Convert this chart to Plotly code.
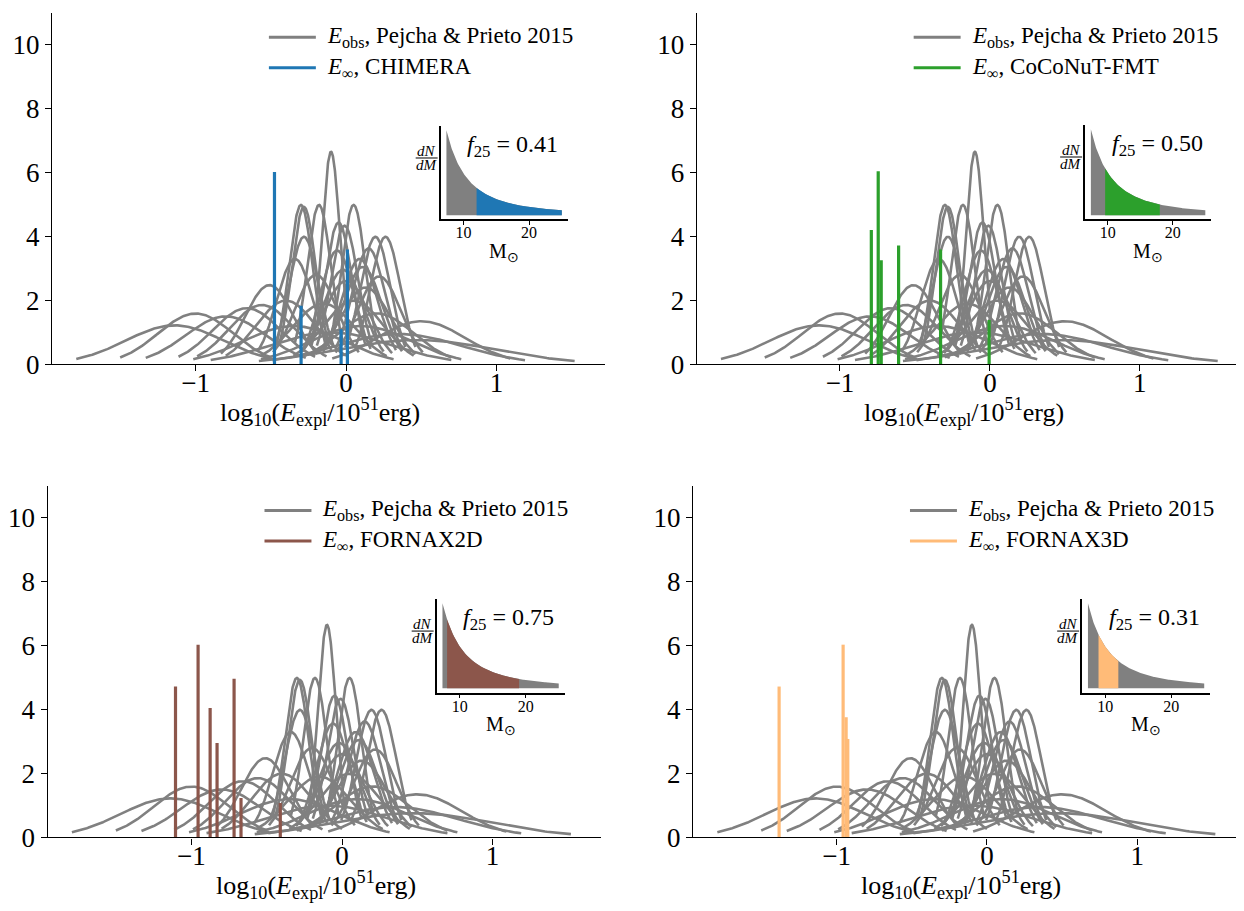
import numpy as np
import plotly.graph_objects as go

# ---------------- data ----------------
# Pejcha & Prieto 2015 observed explosion energies: log10(E/1e51 erg) mean and sigma
obs_mu = [-0.10, -0.30, -0.28, -0.18, 0.05, -0.28, -0.05, -0.01, 0.195, 0.262,
          0.15, 0.09, 0.11, -0.34, -0.06, -0.51, -0.56, -0.66, -1.00, -1.14,
          -0.80, 0.50, 0.47, -0.20, 0.00, 0.13, -0.40, -0.15, 0.05, 0.20,
          -0.35, -0.10, 0.10, 0.35, -0.02, 0.22]
obs_sigma = [0.060, 0.080, 0.081, 0.080, 0.080, 0.100, 0.090, 0.092, 0.100, 0.100,
             0.110, 0.121, 0.131, 0.121, 0.112, 0.161, 0.215, 0.227, 0.251, 0.327,
             0.266, 0.296, 0.525, 0.1425, 0.153, 0.166, 0.200, 0.210, 0.200, 0.250,
             0.333, 0.400, 0.333, 0.420, 0.135, 0.145]
obs_trunc = 2.0  # curves drawn over mean +/- 2 sigma

models = ["CHIMERA", "CoCoNuT-FMT", "FORNAX2D", "FORNAX3D"]
model_colors = ["#1f77b4", "#2ca02c", "#8c564b", "#ffbb78"]

chimera_E = [-0.476, -0.299, -0.033, 0.009]
chimera_h = [6.02, 1.83, 1.10, 3.59]
coconut_E = [-0.791, -0.745, -0.725, -0.609, -0.329, -0.005]
coconut_h = [4.20, 6.04, 3.26, 3.72, 3.59, 1.39]
fornax2d_E = [-1.106, -0.956, -0.876, -0.830, -0.717, -0.671, -0.410]
fornax2d_h = [4.72, 6.03, 4.05, 2.95, 4.96, 1.23, 1.08]
fornax3d_E = [-1.383, -0.957, -0.937, -0.926]
fornax3d_h = [4.72, 6.03, 3.76, 3.08]
model_E = [chimera_E, coconut_E, fornax2d_E, fornax3d_E]
model_h = [chimera_h, coconut_h, fornax2d_h, fornax3d_h]

f25_values = ["0.41", "0.50", "0.75", "0.31"]
mass_lo = [12.0, 9.6, 8.1, 9.0]
mass_hi = [25.0, 18.0, 19.0, 12.0]
imf_mmin, imf_mmax = 7.4, 25.0
imf_slope = 2.35

x_ticks = [-1, 0, 1]
y_ticks = [0, 2, 4, 6, 8, 10]
inset_ticks = [10, 20]

# ---------------- layout geometry (pixels) ----------------
W, H = 1244, 911
panels = [(43.1, 596.2, 4.8, 362.3), (688.4, 1239.7, 4.8, 362.3),
          (38.7, 592.5, 485.8, 843.3), (684.7, 1237.4, 485.8, 843.3)]
insets = [(432, 559, 120, 215), (1077, 1203, 119, 215),
          (428, 556, 601, 696), (1074, 1202, 601, 696)]

def px(x):
    return x / W

def py(y):
    return 1 - y / H

FONT = "Liberation Serif"
GRAY = "#808080"

fig = go.Figure()
shapes = []
annotations = []

xr = [-1.955, 1.72]
yr = [0, 11]

for i in range(4):
    ax = i + 1
    xa = "x" if ax == 1 else f"x{ax}"
    ya = "y" if ax == 1 else f"y{ax}"
    # gray gaussian curves
    gx, gy = [], []
    for mu, s in zip(obs_mu, obs_sigma):
        xs = np.linspace(mu - obs_trunc * s, mu + obs_trunc * s, 160)
        ys = np.exp(-0.5 * ((xs - mu) / s) ** 2) / (s * np.sqrt(2 * np.pi))
        gx += list(xs) + [None]
        gy += list(ys) + [None]
    fig.add_trace(go.Scatter(x=gx, y=gy, mode="lines", xaxis=xa, yaxis=ya,
                             line=dict(color=GRAY, width=2.6), showlegend=False,
                             hoverinfo="skip"))
    # vertical model lines
    vx, vy = [], []
    for e, h in zip(model_E[i], model_h[i]):
        vx += [e, e, None]
        vy += [0, h, None]
    fig.add_trace(go.Scatter(x=vx, y=vy, mode="lines", xaxis=xa, yaxis=ya,
                             line=dict(color=model_colors[i], width=3.2),
                             showlegend=False, hoverinfo="skip"))

    x0, x1, y0, y1 = panels[i]
    fig.update_layout(**{
        ("xaxis" if ax == 1 else f"xaxis{ax}"): dict(
            domain=[px(x0), px(x1)], range=xr, anchor=ya, tickvals=x_ticks,
            ticks="outside", ticklen=6, tickwidth=1.3, tickcolor="black",
            ticklabelstandoff=-12,
            showline=True, linecolor="black", linewidth=1.3, showgrid=False,
            zeroline=False, tickfont=dict(family=FONT, size=27, color="black")),
        ("yaxis" if ax == 1 else f"yaxis{ax}"): dict(
            domain=[py(y1), py(y0)], range=yr, anchor=xa, tickvals=y_ticks,
            ticks="outside", ticklen=6, tickwidth=1.3, tickcolor="black",
            showline=True, linecolor="black", linewidth=1.3, showgrid=False,
            zeroline=False, tickfont=dict(family=FONT, size=27, color="black")),
    })
    # x-axis title
    annotations.append(dict(
        x=px((x0 + x1) / 2 - 8), y=py(y1 + 48), xref="paper", yref="paper",
        text="log<sub>10</sub>(<i>E</i><sub>expl</sub>/10<sup>51</sup>erg)",
        showarrow=False, xanchor="center", yanchor="middle",
        font=dict(family=FONT, size=26, color="black")))
    # manual legend
    lx = x0 + 217
    for k, (col, txt) in enumerate([
            (GRAY, "<i>E</i><sub>obs</sub>, Pejcha &amp; Prieto 2015"),
            (model_colors[i], "<i>E</i><sub>∞</sub>, " + models[i])]):
        ly = y0 + 25 + 31 * k
        shapes.append(dict(type="line", xref="paper", yref="paper",
                           x0=px(lx), x1=px(lx + 47), y0=py(ly), y1=py(ly),
                           line=dict(color=col, width=3)))
        annotations.append(dict(x=px(lx + 56), y=py(ly), xref="paper", yref="paper",
                                text=txt, showarrow=False, xanchor="left",
                                yanchor="middle",
                                font=dict(family=FONT, size=23, color="black")))

    # ---------- inset IMF ----------
    ia = ax + 4
    ixa, iya = f"x{ia}", f"y{ia}"
    m_all = np.linspace(imf_mmin, imf_mmax, 200)
    fig.add_trace(go.Scatter(x=m_all, y=m_all ** (-imf_slope), mode="lines",
                             xaxis=ixa, yaxis=iya, fill="tozeroy",
                             fillcolor=GRAY, line=dict(color=GRAY, width=0),
                             showlegend=False, hoverinfo="skip"))
    m_sel = np.linspace(mass_lo[i], mass_hi[i], 200)
    fig.add_trace(go.Scatter(x=m_sel, y=m_sel ** (-imf_slope), mode="lines",
                             xaxis=ixa, yaxis=iya, fill="tozeroy",
                             fillcolor=model_colors[i],
                             line=dict(color=model_colors[i], width=0),
                             showlegend=False, hoverinfo="skip"))
    ymax = imf_mmin ** (-imf_slope)
    span = imf_mmax - imf_mmin
    ix0, ix1, iy0, iy1 = insets[i]
    fig.update_layout(**{
        f"xaxis{ia}": dict(domain=[px(ix0), px(ix1)],
                           range=[imf_mmin - 0.05 * span, imf_mmax + 0.05 * span],
                           anchor=iya, tickvals=inset_ticks, ticks="outside",
                           ticklen=4, tickwidth=1.2, tickcolor="black",
                           ticklabelstandoff=-6,
                           showline=True, linecolor="black", linewidth=1.6,
                           showgrid=False, zeroline=False,
                           tickfont=dict(family=FONT, size=16, color="black")),
        f"yaxis{ia}": dict(domain=[py(iy1), py(iy0)],
                           range=[-0.05 * ymax, 1.05 * ymax], anchor=ixa,
                           showticklabels=False, ticks="", showline=True,
                           linecolor="black", linewidth=1.6, showgrid=False,
                           zeroline=False),
    })
    # dN/dM fraction
    fx = ix0 - 14
    annotations.append(dict(x=px(fx), y=py(iy0 + 25), xref="paper", yref="paper",
                            text="<i>dN</i>", showarrow=False, xanchor="center",
                            yanchor="middle",
                            font=dict(family=FONT, size=15, color="black")))
    annotations.append(dict(x=px(fx), y=py(iy0 + 40), xref="paper", yref="paper",
                            text="<i>dM</i>", showarrow=False, xanchor="center",
                            yanchor="middle",
                            font=dict(family=FONT, size=15, color="black")))
    shapes.append(dict(type="line", xref="paper", yref="paper",
                       x0=px(fx - 11), x1=px(fx + 11), y0=py(iy0 + 32.5),
                       y1=py(iy0 + 32.5), line=dict(color="black", width=1)))
    # f25 text
    annotations.append(dict(x=px(ix0 + 72), y=py(iy0 + 20), xref="paper", yref="paper",
                            text="<i>f</i><sub>25</sub> = " + f25_values[i],
                            showarrow=False, xanchor="center", yanchor="middle",
                            font=dict(family=FONT, size=24, color="black")))
    # M_sun label
    annotations.append(dict(x=px((ix0 + ix1) / 2), y=py(iy1 + 34), xref="paper",
                            yref="paper", text="M<sub>⊙</sub>", showarrow=False,
                            xanchor="center", yanchor="middle",
                            font=dict(family=FONT, size=20, color="black")))

fig.update_layout(width=W, height=H, margin=dict(l=0, r=0, t=0, b=0),
                  paper_bgcolor="white", plot_bgcolor="white",
                  shapes=shapes, annotations=annotations, showlegend=False)
fig.write_html("out.html")
